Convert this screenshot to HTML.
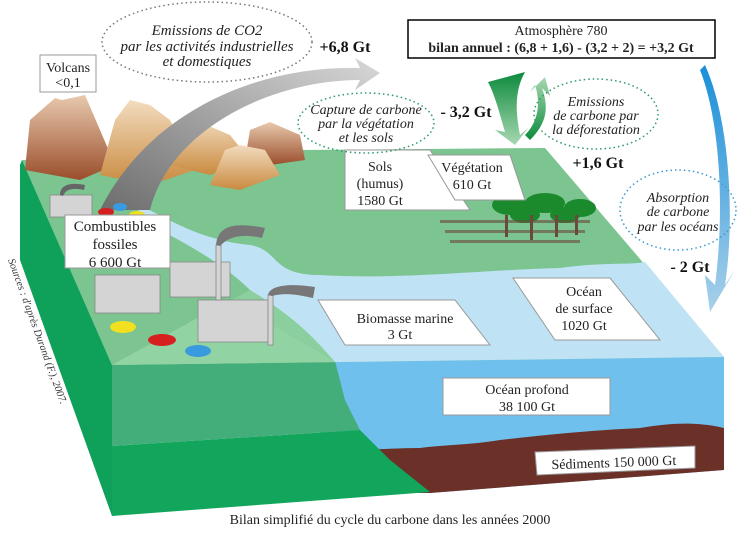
<!DOCTYPE html>
<html><head><meta charset="utf-8"><style>
body{margin:0;background:#fff}
svg{display:block;font-family:"Liberation Serif",serif}
</style></head><body>
<svg width="754" height="537" viewBox="0 0 754 537">
<defs>
<linearGradient id="gr" x1="0" y1="1" x2="1" y2="0"><stop offset="0" stop-color="#6d6d6d"/><stop offset="1" stop-color="#d8d8d8"/></linearGradient>
<linearGradient id="bl" x1="0" y1="0" x2="0" y2="1"><stop offset="0" stop-color="#1a8fd8"/><stop offset="1" stop-color="#a8d0ea"/></linearGradient>
<linearGradient id="m1" x1="0" y1="0" x2="0" y2="1"><stop offset="0" stop-color="#e8c9ae"/><stop offset="1" stop-color="#9a4e2c"/></linearGradient>
<linearGradient id="m2" x1="0" y1="0" x2="0" y2="1"><stop offset="0" stop-color="#f3dcc0"/><stop offset="1" stop-color="#c98a3e"/></linearGradient>
<linearGradient id="ga" x1="0" y1="0" x2="0" y2="1"><stop offset="0" stop-color="#0c8a3c"/><stop offset="1" stop-color="#a8d8b2"/></linearGradient>
<linearGradient id="gb" x1="0" y1="1" x2="0" y2="0"><stop offset="0" stop-color="#0c8a3c"/><stop offset="1" stop-color="#a8d8b2"/></linearGradient>
</defs>
<polygon points="22,160 112,365 112,516 20,260 20,165" fill="#0fa159"/>
<polygon points="22,160 40,165 112,365" fill="#3cb06a"/>
<polygon points="320,357 724,357 724,470 430,493 320,493" fill="#6fc0ec"/>
<path d="M320,452 C360,450 400,448 420,448 C440,445 470,445 500,440 C560,433 600,430 640,428 C660,425 690,420 724,428 L724,470 L430,493 L320,493 Z" fill="#6b3128"/>
<polygon points="112,364 335,361 345,400 360,430 112,446" fill="#43ae7a"/>
<polygon points="112,446 360,430 390,460 430,492 112,516" fill="#12a65c"/>
<polygon points="22,160 300,150 545,148 724,357 112,365" fill="#7cc490"/>
<path d="M130,200 C170,220 200,240 250,245 C280,250 270,275 320,275 C400,280 480,270 560,268 C600,262 630,265 645,262 L724,357 L112,365 L335,362 C300,330 270,310 250,290 C230,270 200,250 150,225 Z" fill="#bfe2f4"/>
<path d="M250,290 C300,320 320,345 335,362 L112,365 Z" fill="#8ccf9e"/>
<polygon points="112,365 230,300 335,362" fill="#92d3a3"/>
<path d="M25,170 L30,120 L55,98 L62,100 L85,95 L100,130 L115,165 L80,180 Z" fill="url(#m1)"/>
<path d="M100,175 L115,120 L130,100 L150,105 L170,120 L185,150 L195,170 L150,185 Z" fill="url(#m2)"/>
<path d="M170,165 L180,125 L190,118 L230,135 L250,160 L210,175 Z" fill="url(#m2)"/>
<path d="M245,160 L250,130 L270,122 L300,135 L305,160 L270,165 Z" fill="url(#m1)"/>
<path d="M210,185 L225,150 L240,145 L265,150 L280,175 L240,190 Z" fill="url(#m2)"/>
<path d="M100,210 C150,110 260,65 360,68 L355,58 L380,73 L355,90 L360,80 C270,80 170,130 150,210 Z" fill="url(#gr)"/>
<g fill="#d4d4d4" stroke="#888" stroke-width=".8">
<rect x="50" y="195" width="42" height="22"/>
<rect x="95" y="275" width="65" height="38"/>
<rect x="170" y="262" width="60" height="35"/>
<rect x="198" y="300" width="70" height="42"/>
<rect x="216" y="245" width="5" height="55"/>
<rect x="268" y="295" width="5" height="50"/>
</g>
<path d="M268,295 C270,285 290,283 315,287 L313,298 C300,295 285,292 272,296 Z" fill="#777"/>
<path d="M216,245 C218,225 235,222 265,228 L262,238 C245,234 230,235 220,246 Z" fill="#777"/>
<path d="M60,195 C60,185 70,182 85,185 L84,190 C75,188 66,188 63,196 Z" fill="#666"/>
<ellipse cx="106" cy="212" rx="8" ry="4" fill="#d62020"/><ellipse cx="120" cy="207" rx="7" ry="4" fill="#3a9ae0"/><ellipse cx="137" cy="215" rx="8" ry="4" fill="#f0e020"/>
<ellipse cx="123" cy="327" rx="13" ry="6" fill="#f0e020"/><ellipse cx="162" cy="340" rx="14" ry="6" fill="#d62020"/><ellipse cx="198" cy="351" rx="13" ry="6" fill="#3a9ae0"/>
<g fill="#1b8a2c"><ellipse cx="510" cy="205" rx="18" ry="10"/><ellipse cx="545" cy="203" rx="20" ry="10"/><ellipse cx="580" cy="208" rx="16" ry="9"/><ellipse cx="525" cy="215" rx="15" ry="8"/><ellipse cx="565" cy="215" rx="15" ry="8"/></g>
<g fill="#6a4a3a"><rect x="440" y="220" width="150" height="3" opacity=".6"/><rect x="445" y="230" width="140" height="3" opacity=".6"/><rect x="450" y="240" width="130" height="3" opacity=".6"/><rect x="505" y="215" width="3" height="22"/><rect x="530" y="215" width="3" height="25"/><rect x="555" y="215" width="3" height="22"/><rect x="575" y="215" width="3" height="20"/></g>
<path d="M488,82 L525,72 C515,90 515,110 520,135 L528,128 L515,145 L495,130 L505,132 C500,115 495,95 488,82 Z" fill="url(#ga)"/>
<path d="M525,135 C540,120 540,100 535,85 L530,92 L545,77 L550,96 L542,88 C550,110 545,125 530,140 Z" fill="url(#gb)"/>
<path d="M705,65 C730,120 735,220 725,285 L735,270 L710,312 L705,275 L715,285 C725,210 720,120 700,70 Z" fill="url(#bl)"/>
<g fill="#fff" stroke="#999" stroke-width="1">
<rect x="40" y="55" width="56" height="37"/>
<polygon points="345,150 430,150 470,210 345,210"/>
<polygon points="428,155 510,155 525,200 455,200"/>
<polygon points="65,215 170,215 170,268 65,268"/>
<polygon points="318,300 455,300 490,345 345,345"/>
<polygon points="513,278 610,278 660,340 555,340"/>
<rect x="443" y="378" width="167" height="37"/>
<polygon points="535,452 695,446 695,468 537,475"/>
</g>
<rect x="408" y="20" width="307" height="38" fill="#fff" stroke="#000" stroke-width="1.5"/>
<g fill="none" stroke-dasharray="1.5,3" stroke-width="1.5">
<ellipse cx="207" cy="42" rx="105" ry="40" stroke="#777"/>
<ellipse cx="366" cy="123" rx="68" ry="30" stroke="#2a9a6a"/>
<ellipse cx="596" cy="114" rx="62" ry="35" stroke="#2a9a6a"/>
<ellipse cx="678" cy="210" rx="58" ry="40" stroke="#3a9ad0"/>
</g>
<g font-size="14" fill="#222" text-anchor="middle">
<g font-style="italic" font-size="15"><text x="207" y="35">Emissions de CO2</text><text x="207" y="51">par les activités industrielles</text><text x="207" y="66">et domestiques</text></g>
<g font-weight="bold" font-size="16" fill="#111"><text x="345" y="52">+6,8 Gt</text><text x="466" y="117">- 3,2 Gt</text><text x="598" y="168">+1,6 Gt</text><text x="690" y="272">- 2 Gt</text></g>
<text x="68" y="72">Volcans</text><text x="68" y="87">&lt;0,1</text>
<text x="561" y="35">Atmosphère 780</text>
<text x="561" y="52" font-weight="bold">bilan annuel : (6,8 + 1,6) - (3,2 + 2) = +3,2 Gt</text>
<g font-style="italic"><text x="366" y="114">Capture de carbone</text><text x="366" y="128">par la végétation</text><text x="366" y="142">et les sols</text>
<text x="596" y="106">Emissions</text><text x="596" y="120">de carbone par</text><text x="596" y="134">la déforestation</text>
<text x="678" y="202">Absorption</text><text x="678" y="216">de carbone</text><text x="678" y="231">par les océans</text></g>
<text x="380" y="171">Sols</text><text x="380" y="188">(humus)</text><text x="380" y="205">1580 Gt</text>
<text x="472" y="172">Végétation</text><text x="472" y="189">610 Gt</text>
<text x="115" y="231" font-size="15">Combustibles</text><text x="115" y="249" font-size="15">fossiles</text><text x="115" y="267" font-size="15">6 600 Gt</text>
<text x="405" y="323">Biomasse marine</text><text x="400" y="339">3 Gt</text>
<text x="584" y="296">Océan</text><text x="584" y="313">de surface</text><text x="584" y="330">1020 Gt</text>
<text x="527" y="394">Océan profond</text><text x="527" y="411">38 100 Gt</text>
<text x="614" y="467" transform="rotate(-2 614 467)">Sédiments 150 000 Gt</text>
<text x="390" y="524">Bilan simplifié du cycle du carbone dans les années 2000</text>
</g>
<text x="0" y="0" font-size="10.5" font-style="italic" fill="#333" transform="translate(8,260) rotate(70)">Sources : d'après Durand (F.), 2007.</text>
</svg>
</body></html>
